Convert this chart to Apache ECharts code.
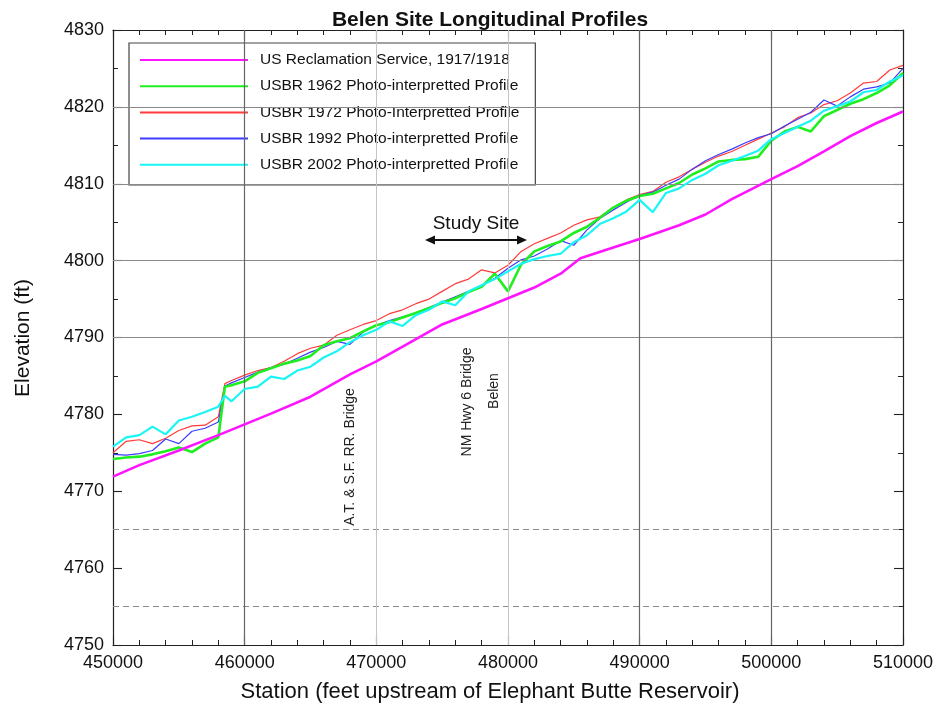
<!DOCTYPE html>
<html>
<head>
<meta charset="utf-8">
<script src="https://cdn.jsdelivr.net/npm/echarts@6/dist/echarts.min.js"></script>
<style>
html,body{margin:0;padding:0;background:#fff;}
#c{width:936px;height:710px;}
</style>
</head>
<body>
<div id="c"></div>
<script>
// ---- data ----
const seriesNames = [
  'US Reclamation Service, 1917/1918',
  'USBR 1962 Photo-interpretted Profile',
  'USBR 1972 Photo-Interpretted Profile',
  'USBR 1992 Photo-interpretted Profile',
  'USBR 2002 Photo-interpretted Profile'
];

const stations1917 = [450000,452000,455000,458000,460000,462000,465000,468000,470000,472000,475000,478000,480000,482000,484000,485500,488000,490000,493000,495000,497000,500000,502000,504000,506000,508000,510000];
const elev1917 = [4771.9,4773.4,4775.3,4777.3,4778.7,4780.1,4782.3,4785.2,4786.9,4788.8,4791.7,4793.7,4795.1,4796.5,4798.3,4800.3,4801.7,4802.8,4804.6,4806.0,4808.0,4810.6,4812.3,4814.2,4816.2,4817.9,4819.4];

const stations = [450000,451000,452000,453000,454000,455000,456000,457000,458000,458500,459000,460000,461000,462000,463000,464000,465000,466000,467000,468000,469000,470000,471000,472000,473000,474000,475000,476000,477000,478000,479000,480000,481000,482000,483000,484000,485000,486000,487000,488000,489000,490000,491000,492000,493000,494000,495000,496000,497000,498000,499000,500000,501000,502000,503000,504000,505000,506000,507000,508000,509000,510000];

const elev1962 = [4774.2,4774.4,4774.5,4774.8,4775.2,4775.7,4775.1,4776.2,4777.0,4783.6,4783.8,4784.3,4785.4,4786.0,4786.6,4787.0,4787.6,4789.0,4789.5,4789.9,4790.8,4791.6,4792.0,4792.6,4793.2,4793.8,4794.5,4795.1,4795.9,4796.6,4798.3,4796.0,4799.5,4801.2,4801.9,4802.5,4803.6,4804.4,4805.6,4806.9,4807.8,4808.4,4808.7,4809.4,4810.1,4811.2,4812.0,4812.9,4813.1,4813.2,4813.5,4815.6,4816.8,4817.4,4816.8,4818.8,4819.6,4820.4,4821.0,4821.8,4822.8,4824.4];

const elev1972 = [4775.0,4776.5,4776.7,4776.2,4776.9,4777.9,4778.5,4778.6,4779.7,4784.0,4784.4,4785.1,4785.7,4786.1,4786.9,4787.9,4788.6,4789.0,4790.3,4791.0,4791.7,4792.2,4793.1,4793.6,4794.4,4795.0,4796.0,4797.0,4797.6,4798.8,4798.4,4799.4,4801.2,4802.2,4802.9,4803.6,4804.6,4805.3,4805.7,4806.9,4807.9,4808.6,4809.0,4810.2,4810.9,4811.9,4812.8,4813.6,4814.2,4815.0,4815.8,4816.6,4817.4,4818.6,4819.2,4820.3,4820.8,4821.8,4823.1,4823.3,4824.8,4825.4];

const elev1992 = [4774.8,4774.7,4774.9,4775.3,4776.8,4776.2,4777.8,4778.2,4779.0,4783.7,4784.1,4784.8,4785.5,4786.1,4786.5,4787.3,4788.1,4788.7,4789.5,4789.1,4790.7,4791.6,4792.2,4792.7,4793.2,4793.9,4794.6,4795.3,4796.0,4796.8,4797.7,4799.0,4800.1,4800.6,4801.5,4802.6,4802.0,4804.0,4805.5,4806.6,4807.6,4808.5,4808.9,4809.8,4810.6,4811.9,4813.0,4813.8,4814.5,4815.3,4816.0,4816.5,4817.5,4818.4,4819.3,4820.9,4820.1,4821.3,4822.3,4822.6,4823.1,4825.0];

const elev2002 = [4775.8,4777.0,4777.3,4778.4,4777.4,4779.2,4779.7,4780.3,4781.0,4782.4,4781.7,4783.3,4783.6,4784.9,4784.6,4785.7,4786.2,4787.4,4788.2,4789.4,4790.3,4791.0,4792.1,4791.5,4792.9,4793.6,4794.7,4794.2,4796.0,4796.8,4797.6,4798.6,4799.6,4800.2,4800.6,4800.9,4802.4,4803.3,4804.8,4805.5,4806.4,4807.9,4806.3,4808.8,4809.4,4810.5,4811.3,4812.4,4813.0,4813.6,4814.3,4815.8,4816.6,4817.4,4818.2,4819.5,4820.1,4820.7,4821.9,4822.2,4823.3,4824.1];

// grid reference lines
const solidGridY = [4790, 4800, 4810, 4820];
const dashedGridY = [4755, 4765];
const darkGridX = [460000, 490000, 500000];
const lightGridX = [470000, 480000];

// ---- chart ----
const FONT = '"Liberation Sans", Arial, sans-serif';
const chart = echarts.init(document.getElementById('c'), null, {renderer: 'canvas'});

function pairs(xs, ys) { return xs.map((x, i) => [x, ys[i]]); }

const gridLines = []
  .concat(solidGridY.map(v => ({yAxis: v, lineStyle: {color: '#8a8a8a', width: 1.2, type: 'solid'}})))
  .concat(dashedGridY.map(v => ({yAxis: v, lineStyle: {color: '#8a8a8a', width: 1.2, type: [6, 4]}})))
  .concat(darkGridX.map(v => ({xAxis: v, lineStyle: {color: '#666', width: 1.2, type: 'solid'}})))
  .concat(lightGridX.map(v => ({xAxis: v, lineStyle: {color: '#c4c4c4', width: 1, type: 'solid'}})));

const colors = ['#ff14ff', '#1fef1f', '#ff3b3b', '#3c3cff', '#19f5f5'];
const widths = [2.6, 2.6, 1.2, 1.2, 2.2];
const dataSets = [
  pairs(stations1917, elev1917),
  pairs(stations, elev1962),
  pairs(stations, elev1972),
  pairs(stations, elev1992),
  pairs(stations, elev2002)
];
const zOrder = [6, 4, 3, 3, 5];

const series = seriesNames.map((name, i) => ({
  name: name,
  type: 'line',
  data: dataSets[i],
  symbol: 'none',
  showSymbol: false,
  animation: false,
  z: zOrder[i],
  lineStyle: {color: colors[i], width: widths[i]},
  itemStyle: {color: colors[i]}
}));

series.push({
  name: '__grid',
  type: 'line',
  data: [],
  z: 1,
  animation: false,
  markLine: {
    silent: true,
    symbol: ['none', 'none'],
    label: {show: false},
    animation: false,
    data: gridLines
  }
});

function axisCommon(extra) {
  return Object.assign({
    type: 'value',
    axisLine: {show: true, onZero: false, lineStyle: {color: '#222', width: 1.2}},
    axisTick: {show: true, inside: true, length: 9, lineStyle: {color: '#222', width: 1.1}},
    minorTick: {show: true, length: 5, lineStyle: {color: '#222', width: 1}},
    splitLine: {show: false},
    minorSplitLine: {show: false}
  }, extra);
}
const plain = v => String(v);

const option = {
  backgroundColor: '#fff',
  animation: false,
  title: {
    text: 'Belen Site Longitudinal Profiles',
    left: 485, top: 5, textAlign: 'center',
    textStyle: {fontFamily: FONT, fontSize: 21, fontWeight: 'bold', color: '#111'}
  },
  grid: {left: 113, right: 28, top: 30, bottom: 65, containLabel: false},
  legend: {
    data: seriesNames,
    orient: 'vertical',
    left: 129, top: 43,
    itemWidth: 108, itemHeight: 14, itemGap: 10.2,
    padding: [9, 16, 12, 10],
    backgroundColor: '#fff',
    borderColor: '#444', borderWidth: 1.2,
    itemStyle: {opacity: 0},
    textStyle: {fontFamily: FONT, fontSize: 15.5, color: '#111', padding: [0, 0, 0, 7]},
    selectedMode: false
  },
  xAxis: [
    axisCommon({
      position: 'bottom', min: 450000, max: 510000, interval: 10000,
      minorTick: {show: true, splitNumber: 5, length: 5, lineStyle: {color: '#222', width: 1}},
      axisLabel: {show: true, formatter: plain, fontFamily: FONT, fontSize: 18, color: '#111', margin: 9}
    }),
    axisCommon({
      position: 'top', min: 450000, max: 510000, interval: 10000,
      minorTick: {show: true, splitNumber: 5, length: 5, lineStyle: {color: '#222', width: 1}},
      axisLabel: {show: false}
    })
  ],
  yAxis: [
    axisCommon({
      position: 'left', min: 4750, max: 4830, interval: 10,
      minorTick: {show: true, splitNumber: 2, length: 5, lineStyle: {color: '#222', width: 1}},
      axisLabel: {show: true, formatter: plain, fontFamily: FONT, fontSize: 18, color: '#111', margin: 9}
    }),
    axisCommon({
      position: 'right', min: 4750, max: 4830, interval: 10,
      minorTick: {show: true, splitNumber: 2, length: 5, lineStyle: {color: '#222', width: 1}},
      axisLabel: {show: false}
    })
  ],
  series: series,
  graphic: [
    {type: 'text', x: 490, y: 692, style: {text: 'Station (feet upstream of Elephant Butte Reservoir)', fontFamily: FONT, fontSize: 22, fill: '#111', align: 'center', verticalAlign: 'middle'}},
    {type: 'text', x: 23, y: 338, rotation: Math.PI / 2, style: {text: 'Elevation (ft)', fontFamily: FONT, fontSize: 21, fill: '#111', align: 'center', verticalAlign: 'middle'}},
    {type: 'text', x: 476, y: 224, style: {text: 'Study Site', fontFamily: FONT, fontSize: 19, fill: '#111', align: 'center', verticalAlign: 'middle'}, z: 10},
    {type: 'line', shape: {x1: 432, y1: 240, x2: 520, y2: 240}, style: {stroke: '#111', lineWidth: 1.8}, z: 10},
    {type: 'polygon', shape: {points: [[425, 240], [435, 235.5], [435, 244.5]]}, style: {fill: '#111'}, z: 10},
    {type: 'polygon', shape: {points: [[527, 240], [517, 235.5], [517, 244.5]]}, style: {fill: '#111'}, z: 10},
    {type: 'text', x: 350, y: 457, rotation: Math.PI / 2, style: {text: 'A.T. & S.F. RR. Bridge', fontFamily: FONT, fontSize: 14, fill: '#222', align: 'center', verticalAlign: 'middle'}, z: 10},
    {type: 'text', x: 467, y: 402, rotation: Math.PI / 2, style: {text: 'NM Hwy 6 Bridge', fontFamily: FONT, fontSize: 14, fill: '#222', align: 'center', verticalAlign: 'middle'}, z: 10},
    {type: 'text', x: 494, y: 391, rotation: Math.PI / 2, style: {text: 'Belen', fontFamily: FONT, fontSize: 14, fill: '#222', align: 'center', verticalAlign: 'middle'}, z: 10}
  ]
};
chart.setOption(option);
</script>
</body>
</html>
